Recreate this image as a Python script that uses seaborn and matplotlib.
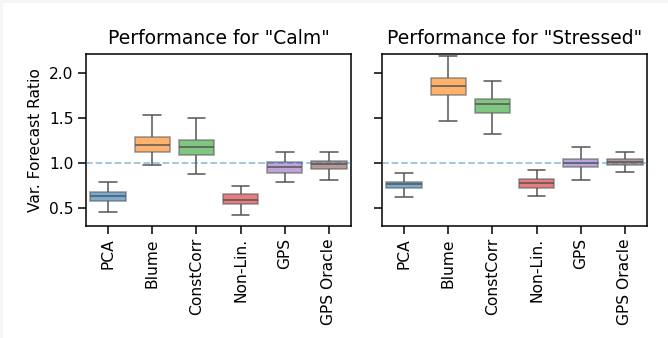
import matplotlib
matplotlib.use("Agg")
import matplotlib.pyplot as plt
from matplotlib.patches import Rectangle
import seaborn as sns
import pandas as pd

methods = ["PCA", "Blume", "ConstCorr", "Non-Lin.", "GPS", "GPS Oracle"]

# five-number summaries: [whisker low, q1, median, q3, whisker high]
calm_stats = {
    "PCA":        [0.45, 0.58, 0.63, 0.675, 0.79],
    "Blume":      [0.975, 1.125, 1.20, 1.29, 1.53],
    "ConstCorr":  [0.88, 1.09, 1.18, 1.255, 1.50],
    "Non-Lin.":   [0.42, 0.545, 0.59, 0.65, 0.74],
    "GPS":        [0.785, 0.89, 0.95, 1.01, 1.12],
    "GPS Oracle": [0.81, 0.935, 0.99, 1.025, 1.12],
}
stressed_stats = {
    "PCA":        [0.62, 0.72, 0.76, 0.79, 0.89],
    "Blume":      [1.46, 1.75, 1.85, 1.94, 2.19],
    "ConstCorr":  [1.315, 1.55, 1.65, 1.71, 1.91],
    "Non-Lin.":   [0.625, 0.725, 0.775, 0.82, 0.915],
    "GPS":        [0.81, 0.95, 1.00, 1.04, 1.175],
    "GPS Oracle": [0.90, 0.98, 1.01, 1.045, 1.125],
}

def to_long(stats):
    rows = []
    for m in methods:
        for v in stats[m]:
            rows.append({"method": m, "value": v})
    return pd.DataFrame(rows)

panels = [('Performance for "Calm"', to_long(calm_stats)),
          ('Performance for "Stressed"', to_long(stressed_stats))]

sns.set_style("ticks")
plt.rcParams["font.family"] = ["DejaVu Sans"]
plt.rcParams.update({
    "text.color": "black",
    "axes.labelcolor": "black",
    "xtick.color": "black",
    "ytick.color": "black",
    "axes.edgecolor": "black",
})

fig = plt.figure(figsize=(6.68, 3.38), dpi=100)
fig.patch.set_facecolor("white")
# faint frame on the top and left edges, as in the reference
fig.add_artist(Rectangle((0, 0.99), 1, 0.01, transform=fig.transFigure,
                         facecolor="#f5f5f5", edgecolor="none", zorder=0))
fig.add_artist(Rectangle((0, 0), 0.004, 1, transform=fig.transFigure,
                         facecolor="#f5f5f5", edgecolor="none", zorder=0))

ax1 = fig.add_axes([0.1287, 0.3322, 0.3967, 0.5080])
ax2 = fig.add_axes([0.5719, 0.3322, 0.3967, 0.5080], sharey=ax1)

palette = sns.color_palette("tab10", len(methods))
for ax, (title, df) in zip([ax1, ax2], panels):
    sns.boxplot(data=df, x="method", y="value", hue="method", palette=palette,
                order=methods, hue_order=methods, saturation=1, showfliers=False,
                whis=(0, 100), width=0.8, legend=False, ax=ax,
                linecolor="#555555", linewidth=1.1,
                boxprops=dict(alpha=0.6))
    ax.axhline(1.0, ls="--", color="tab:blue", alpha=0.45, lw=1.3, zorder=5)
    ax.set_title(title, fontsize=13.5, pad=7, color="black")
    ax.set_xlabel("")
    ax.tick_params(axis="x", labelrotation=90, labelsize=11.2, length=5.5, width=1.1)
    ax.tick_params(axis="y", labelsize=11.2, length=5.5, width=1.1)
    for s in ax.spines.values():
        s.set_visible(True)
        s.set_color("black")
        s.set_linewidth(1.1)

ax1.set_ylabel("Var. Forecast Ratio", fontsize=11.2)
ax2.set_ylabel("")
ax2.tick_params(axis="y", labelleft=False)
ax1.set_ylim(0.30, 2.21)
ax1.set_yticks([0.5, 1.0, 1.5, 2.0])

fig.savefig("out.png", dpi=100, facecolor=fig.get_facecolor())
